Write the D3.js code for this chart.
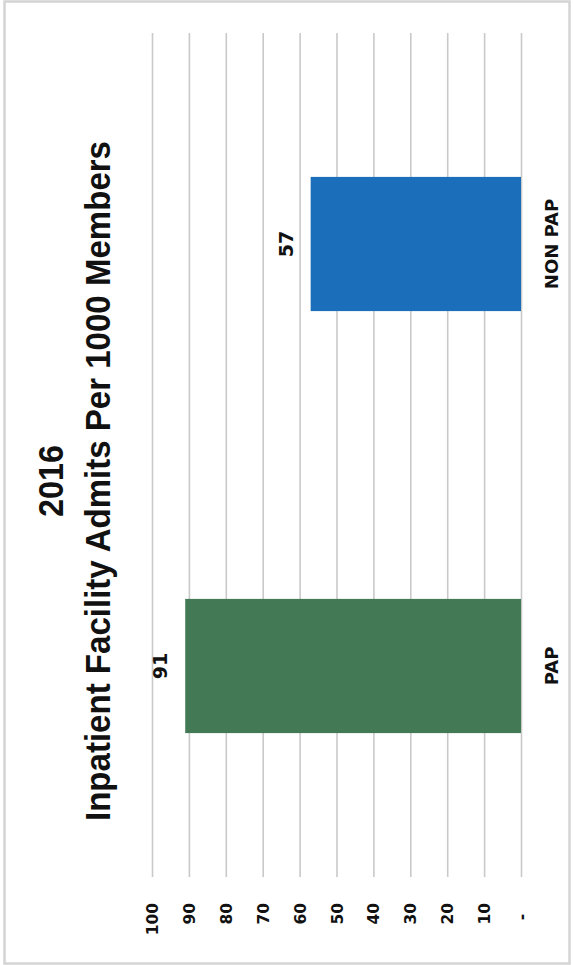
<!DOCTYPE html>
<html>
<head>
<meta charset="utf-8">
<script src="https://cdn.jsdelivr.net/npm/d3@7"></script>
<style>
  html, body { margin: 0; padding: 0; background: #ffffff; }
  svg { display: block; }
</style>
</head>
<body>
<script>
// Inpatient facility admits per 1000 members, 2016
const categories = ["PAP", "NON PAP"];
const admits = [91, 57];
const barColors = ["#437a55", "#1b6fba"];
const tickValues = [0, 10, 20, 30, 40, 50, 60, 70, 80, 90, 100];
const tickLabels = ["-", "10", "20", "30", "40", "50", "60", "70", "80", "90", "100"];
const titleLines = ["2016", "Inpatient Facility Admits Per 1000 Members"];

const pageW = 573, pageH = 965;

const svg = d3.select("body").append("svg")
  .attr("width", pageW)
  .attr("height", pageH);

// outer frame of the chart area
svg.append("rect")
  .attr("x", 4.5).attr("y", 1.5)
  .attr("width", 565).attr("height", 962)
  .attr("fill", "#ffffff")
  .attr("stroke", "#d4d4d4")
  .attr("stroke-width", 2.5);

// the chart is laid out as an ordinary column chart, then turned a quarter turn
const g = svg.append("g")
  .attr("transform", `translate(0,${pageH}) rotate(-90)`);

const x = d3.scaleBand()
  .domain(categories)
  .range([88, 932])
  .paddingInner(0.682)
  .paddingOuter(0.341);

const y = d3.scaleLinear()
  .domain([0, 100])
  .range([521, 152]);

// horizontal gridlines with value labels, via a left axis
const yAxis = d3.axisLeft(y)
  .tickValues(tickValues)
  .tickSize(-(932 - 88))
  .tickFormat((d, i) => tickLabels[i]);

const axisG = g.append("g")
  .attr("transform", "translate(88,0)")
  .call(yAxis);

axisG.select(".domain").remove();
axisG.selectAll(".tick line")
  .attr("stroke", "#c9c9c9")
  .attr("stroke-width", 1.6);
axisG.selectAll(".tick text")
  .attr("x", -26)
  .attr("dy", "0.36em")
  .attr("fill", "#111111")
  .style("font-family", "'DejaVu Sans', sans-serif")
  .style("font-weight", "bold")
  .style("font-size", "15.5px")
  .attr("xml:space", "preserve")
  .text((d, i) => d === 0 ? tickLabels[i] + "\u00a0\u00a0" : tickLabels[i]);

// bars
g.selectAll("rect.bar")
  .data(categories)
  .join("rect")
  .attr("class", "bar")
  .attr("x", d => x(d))
  .attr("width", x.bandwidth())
  .attr("y", (d, i) => y(admits[i]))
  .attr("height", (d, i) => y(0) - y(admits[i]))
  .attr("fill", (d, i) => barColors[i]);

// value labels above the bars
g.selectAll("text.value")
  .data(categories)
  .join("text")
  .attr("class", "value")
  .attr("x", d => x(d) + x.bandwidth() / 2)
  .attr("y", (d, i) => y(admits[i]) - 18)
  .attr("text-anchor", "middle")
  .attr("fill", "#111111")
  .style("font-family", "'DejaVu Sans', sans-serif")
  .style("font-weight", "bold")
  .style("font-size", "19px")
  .text((d, i) => admits[i]);

// category labels
g.selectAll("text.cat")
  .data(categories)
  .join("text")
  .attr("class", "cat")
  .attr("x", d => x(d) + x.bandwidth() / 2)
  .attr("y", 558)
  .attr("text-anchor", "middle")
  .attr("fill", "#111111")
  .style("font-family", "'DejaVu Sans', sans-serif")
  .style("font-weight", "bold")
  .style("font-size", "18px")
  .text(d => d);

// title
const titleFont = "'Liberation Sans Narrow', 'Liberation Sans', Arial, sans-serif";
const titleCenter = 484;
g.append("text")
  .attr("x", titleCenter)
  .attr("y", 63)
  .attr("text-anchor", "middle")
  .attr("textLength", 72)
  .attr("lengthAdjust", "spacingAndGlyphs")
  .attr("fill", "#111111")
  .style("font-family", titleFont)
  .style("font-weight", "bold")
  .style("font-size", "35px")
  .text(titleLines[0]);

g.append("text")
  .attr("x", titleCenter)
  .attr("y", 110)
  .attr("text-anchor", "middle")
  .attr("textLength", 680)
  .attr("lengthAdjust", "spacingAndGlyphs")
  .attr("fill", "#111111")
  .style("font-family", titleFont)
  .style("font-weight", "bold")
  .style("font-size", "35px")
  .text(titleLines[1]);
</script>
</body>
</html>
